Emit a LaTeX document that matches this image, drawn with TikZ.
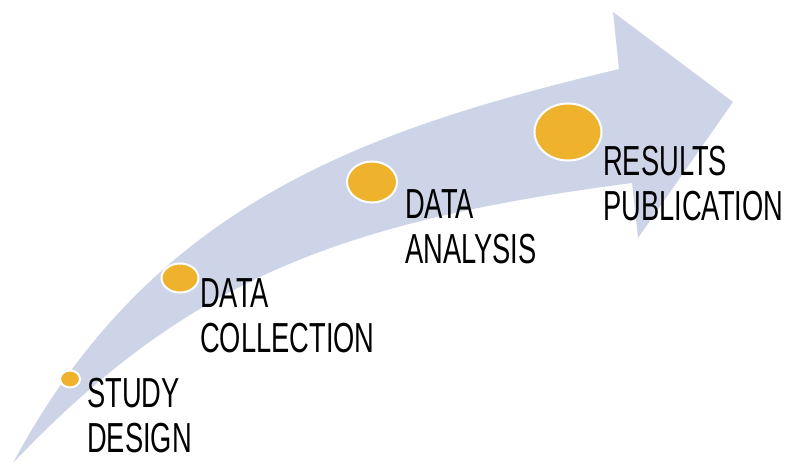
\documentclass[tikz,border=0pt]{standalone}
\usepackage{fontspec}
\setmainfont{Liberation Sans}[FakeStretch=0.65]
\usetikzlibrary{shapes.geometric}
\definecolor{bandblue}{RGB}{205,212,232}
\definecolor{dotgold}{RGB}{238,178,45}
\begin{document}
\begin{tikzpicture}[x=1pt,y=-1pt,
    main_dot/.style={ellipse,fill=dotgold,draw=white,line width=2pt,inner sep=0pt},
    main_text/.style={anchor=base west,align=left,inner sep=0pt,font=\fontsize{42}{45}\selectfont}]
    \useasboundingbox (0,0) rectangle (794,465);
    \fill[bandblue] (13,463) .. controls (153,201) and (369,129) .. (619,69)
        -- (613,12) -- (733,102) -- (638,238) -- (632,183)
        .. controls (332,222) and (183,284.5) .. (13,463) -- cycle;
    \node[main_dot, minimum width=20pt, minimum height=17pt] (1) at (70, 379) {};
    \node[main_dot, minimum width=37pt, minimum height=29pt] (2) at (180, 278) {};
    \node[main_dot, minimum width=50pt, minimum height=41pt] (3) at (372, 182) {};
    \node[main_dot, minimum width=67pt, minimum height=57pt] (4) at (568, 132) {};
    \node[main_text] (t1) at (87, 452) {STUDY\\DESIGN};
    \node[main_text] (t2) at (200, 352) {DATA\\COLLECTION};
    \node[main_text] (t3) at (405, 263) {DATA\\ANALYSIS};
    \node[main_text] (t4) at (603, 220) {RESULTS\\PUBLICATION};
\end{tikzpicture}
\end{document}
